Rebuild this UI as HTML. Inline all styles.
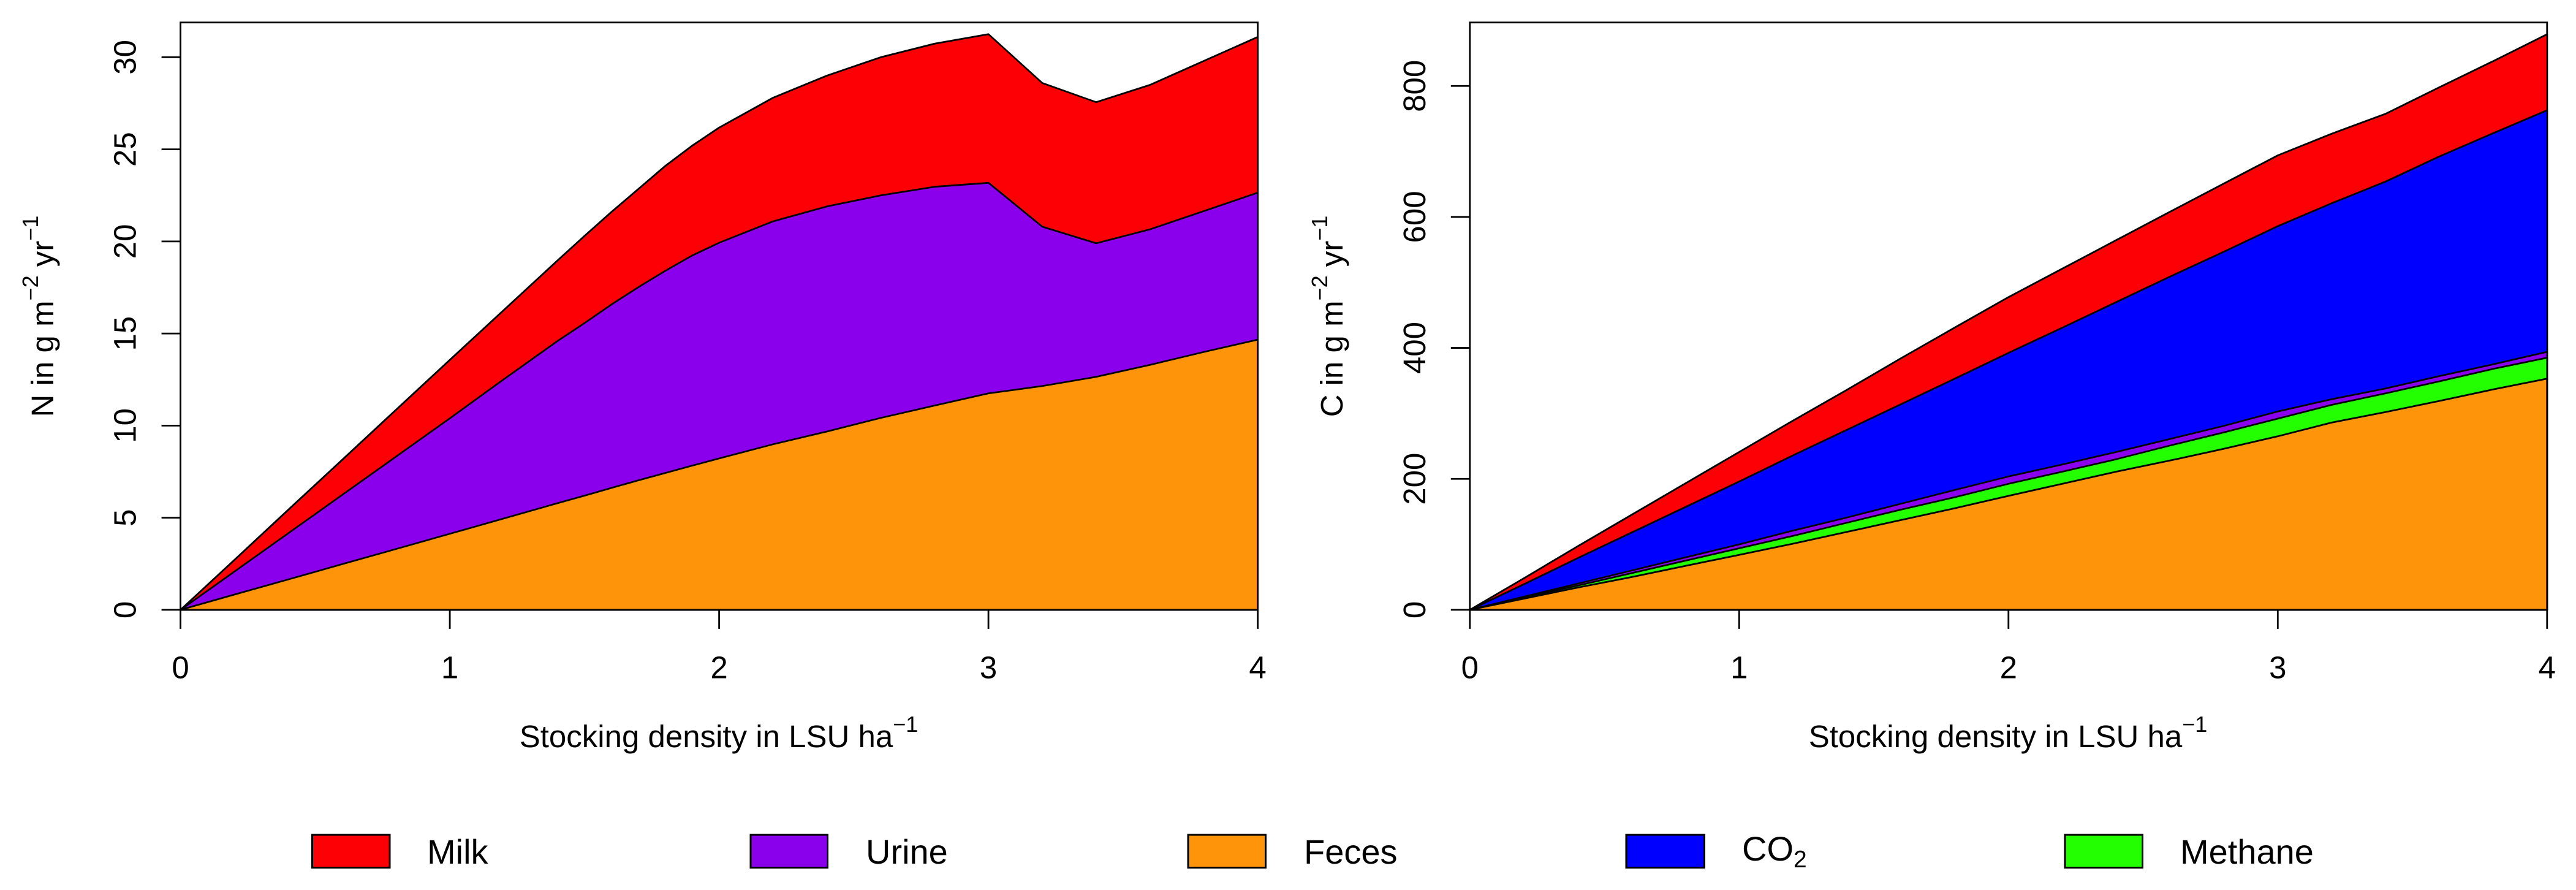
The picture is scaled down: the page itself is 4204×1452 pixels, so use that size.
<!DOCTYPE html>
<html lang="en">
<head>
<meta charset="utf-8">
<title>Stocking density outputs</title>
<style>
html,body{margin:0;padding:0;background:#fff;width:4204px;height:1452px;overflow:hidden}
svg{display:block}
text{font-family:"Liberation Sans",Arial,sans-serif;fill:#000}
</style>
</head>
<body>
<svg id="chart" xmlns="http://www.w3.org/2000/svg" width="4204" height="1452" viewBox="0 0 4204 1452">
  <rect x="0" y="0" width="4204" height="1452" fill="#ffffff"/>
  <g id="panel-n"></g>
  <g id="panel-c"></g>

  <text x="1173" y="1219" font-size="51" text-anchor="middle">Stocking density in LSU ha<tspan font-size="36" dy="-25">−1</tspan></text>
  <text x="3277" y="1219" font-size="51" text-anchor="middle">Stocking density in LSU ha<tspan font-size="36" dy="-25">−1</tspan></text>
  <text transform="translate(87 516) rotate(-90)" font-size="51" text-anchor="middle">N in g m<tspan font-size="36" dy="-25">−2</tspan><tspan dy="25"> yr</tspan><tspan font-size="36" dy="-25">−1</tspan></text>
  <text transform="translate(2191 516) rotate(-90)" font-size="51" text-anchor="middle">C in g m<tspan font-size="36" dy="-25">−2</tspan><tspan dy="25"> yr</tspan><tspan font-size="36" dy="-25">−1</tspan></text>

  <g stroke-width="0">
    <g>
      <rect x="509.5" y="1362" width="126.5" height="53.5" fill="#fd0006" stroke="#000" stroke-width="3"/>
      <text x="697" y="1409" font-size="56">Milk</text>
    </g>
    <g>
      <rect x="1225" y="1362" width="125.5" height="53.5" fill="#8b00ec" stroke="#000" stroke-width="3"/>
      <text x="1413" y="1409" font-size="56">Urine</text>
    </g>
    <g>
      <rect x="1939" y="1362" width="126.5" height="53.5" fill="#fe940a" stroke="#000" stroke-width="3"/>
      <text x="2128" y="1409" font-size="56">Feces</text>
    </g>
    <g>
      <rect x="2654" y="1362" width="127.5" height="53.5" fill="#0000ff" stroke="#000" stroke-width="3"/>
      <text x="2843" y="1404" font-size="56">CO<tspan font-size="39" dy="11">2</tspan></text>
    </g>
    <g>
      <rect x="3370" y="1362" width="126.5" height="53.5" fill="#24ff00" stroke="#000" stroke-width="3"/>
      <text x="3558" y="1409" font-size="56">Methane</text>
    </g>
  </g>
</svg>
<script>
// --- Nitrogen panel data (g m-2 yr-1), component values per stocking density
var nX = [0, 0.2, 0.4, 0.6, 0.8, 1, 1.2, 1.4, 1.5, 1.6, 1.7, 1.8, 1.9, 2, 2.2, 2.4, 2.6, 2.8, 3, 3.2, 3.4, 3.6, 3.8, 4];
var nFeces = [0, 0.83, 1.65, 2.48, 3.3, 4.13, 4.96, 5.79, 6.2, 6.62, 7.03, 7.43, 7.83, 8.22, 8.99, 9.68, 10.42, 11.09, 11.75, 12.15, 12.65, 13.3, 14, 14.67];
var nUrine = [0, 1.25, 2.51, 3.76, 5.02, 6.27, 7.56, 8.81, 9.37, 9.96, 10.49, 10.98, 11.41, 11.71, 12.1, 12.22, 12.08, 11.88, 11.43, 8.65, 7.25, 7.36, 7.65, 7.98];
var nMilk = [0, 0.63, 1.27, 1.9, 2.54, 3.17, 3.75, 4.37, 4.73, 5.02, 5.33, 5.69, 5.96, 6.25, 6.71, 7.1, 7.5, 7.77, 8.07, 7.8, 7.66, 7.84, 8.15, 8.45];
var nYTicks = [0, 5, 10, 15, 20, 25, 30];

// --- Carbon panel data (g m-2 yr-1), component values per stocking density
var cX = [0, 0.2, 0.4, 0.6, 0.8, 1, 1.2, 1.4, 1.6, 1.8, 2, 2.2, 2.4, 2.6, 2.8, 3, 3.2, 3.4, 3.6, 3.8, 4];
var cFeces = [0, 17, 34, 50, 67, 84, 101, 119, 137, 155, 174, 192.5, 211, 228, 246, 265, 286, 302, 319, 336.6, 353];
var cMethane = [0, 2, 3, 6, 8, 10, 12, 14, 16, 17, 18.5, 18.5, 19, 23, 25, 27, 27, 28.6, 30, 31.4, 32];
var cUrine = [0, 1, 3, 4, 5, 6, 8, 8, 9, 11, 11.2, 11, 11, 10, 10, 11, 8.6, 7.4, 8, 7, 9];
var cCo2 = [0, 19, 39, 58, 77, 96, 115, 134, 152, 170, 188.8, 209, 229, 248, 266, 283, 299.4, 316, 335.5, 353, 369];
var cMilk = [0, 9, 18, 27, 36, 45, 53, 61, 70, 78, 85.1, 90, 94.5, 99, 104, 108, 106, 103.5, 105.5, 110, 116];
var cYTicks = [0, 200, 400, 600, 800];

var xTicks = [0, 1, 2, 3, 4];

var SVG_NS = 'http://www.w3.org/2000/svg';
var PLOT_TOP = 36.7;
var PLOT_BOTTOM = 994.9;
var TICK_LEN = 31;
var LINE_W = 2.8;

function make(tag, parent) {
  var node = document.createElementNS(SVG_NS, tag);
  parent.appendChild(node);
  return node;
}

function drawPanel(panel) {
  var root = document.getElementById(panel.id);
  var scaleX = function (v) { return panel.left + (panel.right - panel.left) * v / 4; };
  var scaleY = function (v) { return PLOT_BOTTOM - v * panel.pxPerUnit; };

  // stack the components
  var running = panel.x.map(function () { return 0; });
  var tops = panel.series.map(function (s) {
    running = running.map(function (r, i) { return r + s.values[i]; });
    return running.slice();
  });

  // topmost band first so each lower band paints over it
  for (var k = panel.series.length - 1; k >= 0; k--) {
    var pts = panel.x.map(function (xv, i) {
      return scaleX(xv).toFixed(1) + ',' + scaleY(tops[k][i]).toFixed(1);
    });
    pts.push(scaleX(panel.x[panel.x.length - 1]).toFixed(1) + ',' + scaleY(0).toFixed(1));
    pts.push(scaleX(panel.x[0]).toFixed(1) + ',' + scaleY(0).toFixed(1));
    var area = make('polygon', root);
    
    
    area.setAttribute('points', pts.join(' '));
    area.setAttribute('fill', panel.series[k].color);
    area.setAttribute('stroke', '#000');
    area.setAttribute('stroke-width', LINE_W);
    area.setAttribute('stroke-linejoin', 'round');
  }

  var frame = make('rect', root);
  
  
  frame.setAttribute('x', panel.left);
  frame.setAttribute('y', PLOT_TOP);
  frame.setAttribute('width', panel.right - panel.left);
  frame.setAttribute('height', PLOT_BOTTOM - PLOT_TOP);
  frame.setAttribute('fill', 'none');
  frame.setAttribute('stroke', '#000');
  frame.setAttribute('stroke-width', LINE_W);

  xTicks.forEach(function (t) {
    var tick = make('line', root);
    
    
    tick.setAttribute('x1', scaleX(t));
    tick.setAttribute('x2', scaleX(t));
    tick.setAttribute('y1', PLOT_BOTTOM);
    tick.setAttribute('y2', PLOT_BOTTOM + TICK_LEN);
    tick.setAttribute('stroke', '#000');
    tick.setAttribute('stroke-width', LINE_W);
    var label = make('text', root);
    
    
    label.setAttribute('x', scaleX(t));
    label.setAttribute('y', 1106.5);
    label.setAttribute('font-size', 51);
    label.setAttribute('text-anchor', 'middle');
    label.textContent = String(t);
  });

  panel.yTicks.forEach(function (t) {
    var tick = make('line', root);
    
    
    tick.setAttribute('x1', panel.left - TICK_LEN);
    tick.setAttribute('x2', panel.left);
    tick.setAttribute('y1', scaleY(t));
    tick.setAttribute('y2', scaleY(t));
    tick.setAttribute('stroke', '#000');
    tick.setAttribute('stroke-width', LINE_W);
    var label = make('text', root);
    
    
    label.setAttribute('transform', 'translate(' + (panel.left - 73) + ' ' + scaleY(t) + ') rotate(-90)');
    label.setAttribute('font-size', 51);
    label.setAttribute('text-anchor', 'middle');
    label.textContent = String(t);
  });
}

drawPanel({
  id: 'panel-n',
  prefix: 'nitrogen',
  left: 294.6,
  right: 2052.6,
  pxPerUnit: 30.05,
  x: nX,
  yTicks: nYTicks,
  series: [
    { name: 'feces', values: nFeces, color: '#fe940a' },
    { name: 'urine', values: nUrine, color: '#8b00ec' },
    { name: 'milk', values: nMilk, color: '#fd0006' }
  ]
});

drawPanel({
  id: 'panel-c',
  prefix: 'carbon',
  left: 2398.8,
  right: 4156.8,
  pxPerUnit: 1.0683,
  x: cX,
  yTicks: cYTicks,
  series: [
    { name: 'feces', values: cFeces, color: '#fe940a' },
    { name: 'methane', values: cMethane, color: '#24ff00' },
    { name: 'urine', values: cUrine, color: '#8b00ec' },
    { name: 'co2', values: cCo2, color: '#0000ff' },
    { name: 'milk', values: cMilk, color: '#fd0006' }
  ]
});
</script>
</body>
</html>
